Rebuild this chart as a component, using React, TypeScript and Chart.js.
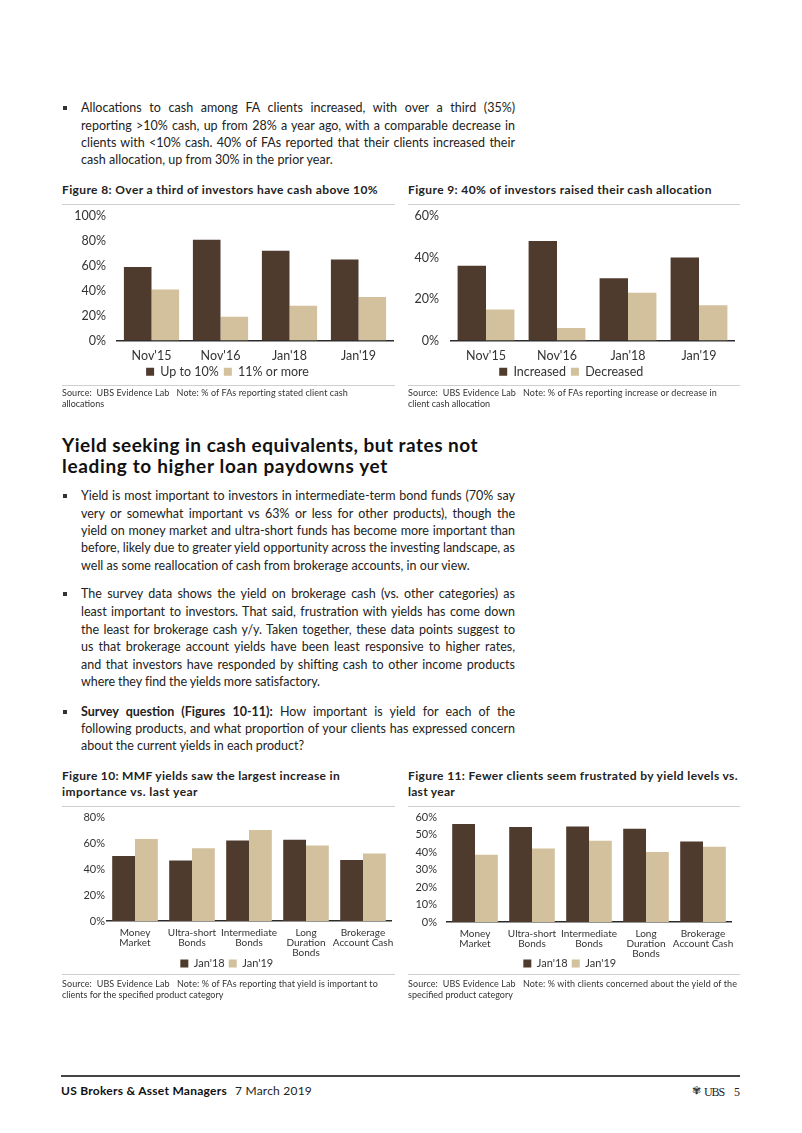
import React, { useEffect, useLayoutEffect, useRef } from "react";
import { Chart, registerables } from "chart.js";

Chart.register(...registerables);

const DARK = "#4E3B2E";
const LIGHT = "#D3C09C";
const FONT = "Lato, 'Open Sans', sans-serif";

// ---------- data ----------
const fig8Categories = ["Nov'15", "Nov'16", "Jan'18", "Jan'19"];
const fig8SeriesNames = ["Up to 10%", "11% or more"];
const fig8UpTo10 = [59, 81, 72, 65];
const fig8Over11 = [41, 19, 28, 35];
const fig8YMax = 100;
const fig8YStep = 20;

const fig9Categories = ["Nov'15", "Nov'16", "Jan'18", "Jan'19"];
const fig9SeriesNames = ["Increased", "Decreased"];
const fig9Increased = [36, 48, 30, 40];
const fig9Decreased = [15, 6, 23, 17];
const fig9YMax = 60;
const fig9YStep = 20;

const productCategories = [
  ["Money", "Market"],
  ["Ultra-short", "Bonds"],
  ["Intermediate", "Bonds"],
  ["Long", "Duration", "Bonds"],
  ["Brokerage", "Account Cash"],
];
const surveySeriesNames = ["Jan'18", "Jan'19"];
const fig10Jan18 = [50, 46.5, 62, 62.5, 47];
const fig10Jan19 = [63, 56, 70, 58, 52];
const fig10YMax = 80;
const fig10YStep = 20;

const fig11Jan18 = [56, 54.3, 54.6, 53.3, 46];
const fig11Jan19 = [38.5, 42, 46.5, 40, 43];
const fig11YMax = 60;
const fig11YStep = 10;

// ---------- text helpers ----------
type LineProps = {
  x: number;
  y: number; // visual centre
  w?: number;
  mode?: "justify" | "fit" | "none";
  size: number;
  weight?: number;
  color?: string;
  family?: string;
  lh?: number;
  children: React.ReactNode;
};

function Line({ x, y, w, mode = "none", size, weight = 400, color = "#222", family = FONT, lh = 16, children }: LineProps) {
  const ref = useRef<HTMLSpanElement>(null);
  useLayoutEffect(() => {
    const el = ref.current;
    if (!el) return;
    const apply = () => {
      el.style.wordSpacing = "0px";
      el.style.letterSpacing = "0px";
      if (!w || mode === "none") return;
      const nat = el.getBoundingClientRect().width;
      const text = el.textContent || "";
      if (mode === "justify") {
        const n = (text.match(/ /g) || []).length;
        if (n) el.style.wordSpacing = (w - nat) / n + "px";
      } else if (mode === "fit") {
        const n = text.length;
        if (n) el.style.letterSpacing = (w - nat) / n + "px";
      }
    };
    apply();
    const f: any = (document as any).fonts;
    if (f && f.ready) f.ready.then(apply);
  }, []);
  return (
    <div
      style={{
        position: "absolute",
        left: x,
        top: y - lh / 2,
        height: lh,
        lineHeight: lh + "px",
        whiteSpace: "pre",
        fontFamily: family,
        fontSize: size,
        fontWeight: weight,
        color,
      }}
    >
      <span ref={ref}>{children}</span>
    </div>
  );
}

function HRule({ x, y, w, color = "#cfcfcf", h = 1 }: { x: number; y: number; w: number; color?: string; h?: number }) {
  return <div style={{ position: "absolute", left: x, top: y - h / 2, width: w, height: h, background: color }} />;
}

function Bullet({ y }: { y: number }) {
  return <div style={{ position: "absolute", left: 63, top: y - 2, width: 4, height: 4, background: "#333" }} />;
}

// ---------- chart ----------
type BarProps = {
  left: number;
  top: number;
  width: number;
  height: number;
  labels: any[];
  names: string[];
  a: number[];
  b: number[];
  yMax: number;
  yStep: number;
  yW: number;
  tickPad: number;
  tickFont: number;
  rightPad: number;
  topPad: number;
  xH: number;
  catPad: number;
  catFont: number;
  catLH: number;
  legendFont: number;
  legendPad: number;
};

function BarChart(p: BarProps) {
  const ref = useRef<HTMLCanvasElement>(null);
  useEffect(() => {
    if (!ref.current) return;
    const chart = new Chart(ref.current, {
      type: "bar",
      data: {
        labels: p.labels,
        datasets: [
          { label: p.names[0], data: p.a, backgroundColor: DARK, borderWidth: 0 },
          { label: p.names[1], data: p.b, backgroundColor: LIGHT, borderWidth: 0 },
        ],
      },
      options: {
        animation: false,
        responsive: false,
        maintainAspectRatio: false,
        devicePixelRatio: 1,
        layout: { padding: { top: p.topPad, right: p.rightPad, left: 0, bottom: 0 } },
        datasets: { bar: { categoryPercentage: 0.8, barPercentage: 1.0 } } as any,
        scales: {
          x: {
            grid: { display: false, drawTicks: false },
            border: { display: true, color: "#2b2b2b", width: 1.5 },
            ticks: {
              font: { family: FONT, size: p.catFont, lineHeight: p.catLH },
              color: "#333",
              padding: p.catPad,
              maxRotation: 0,
              autoSkip: false,
            },
            afterFit: (s: any) => {
              s.height = p.xH;
              s.paddingLeft = 0;
              s.paddingRight = 0;
              // let multi-line category labels spill below the axis box
              s._computeLabelArea = () => undefined;
            },
          },
          y: {
            min: 0,
            max: p.yMax,
            grid: { display: false, drawTicks: false },
            border: { display: false },
            ticks: {
              stepSize: p.yStep,
              callback: (v: any) => v + "%",
              font: { family: FONT, size: p.tickFont },
              color: "#333",
              padding: p.tickPad,
            },
            afterFit: (s: any) => {
              s.width = p.yW;
              s.paddingTop = 0;
              s.paddingBottom = 0;
            },
          },
        },
        plugins: {
          legend: {
            position: "bottom",
            labels: {
              boxWidth: 8,
              boxHeight: 8,
              padding: p.legendPad,
              font: { family: FONT, size: p.legendFont },
              color: "#333",
            },
          },
          tooltip: { enabled: false },
        },
      } as any,
    });
    return () => chart.destroy();
  }, []);
  return (
    <canvas
      ref={ref}
      width={p.width}
      height={p.height}
      style={{ position: "absolute", left: p.left, top: p.top, width: p.width, height: p.height }}
    />
  );
}

const BODY = 12.5;
const BW = 434;

export default function App() {
  return (
    <div
      style={{
        position: "absolute",
        left: 0,
        top: 0,
        width: 802,
        height: 1133,
        overflow: "hidden",
        background: "#fff",
        fontFamily: FONT,
      }}
    >
      {/* Paragraph 1 */}
      <Bullet y={108} />
      <Line x={81} y={108} w={BW} mode="justify" size={BODY}>Allocations to cash among FA clients increased, with over a third (35%)</Line>
      <Line x={81} y={125.5} w={BW} mode="justify" size={BODY}>reporting &gt;10% cash, up from 28% a year ago, with a comparable decrease in</Line>
      <Line x={81} y={142.7} w={BW} mode="justify" size={BODY}>clients with &lt;10% cash. 40% of FAs reported that their clients increased their</Line>
      <Line x={81} y={160} w={252} mode="fit" size={BODY}>cash allocation, up from 30% in the prior year.</Line>

      {/* Figure 8 */}
      <Line x={62} y={190} w={316} mode="fit" size={12} weight={700}>Figure 8: Over a third of investors have cash above 10%</Line>
      <HRule x={62} y={204} w={333} />
      <BarChart
        left={62} top={206} width={333} height={182}
        labels={fig8Categories} names={fig8SeriesNames} a={fig8UpTo10} b={fig8Over11}
        yMax={fig8YMax} yStep={fig8YStep} yW={55} tickPad={11} tickFont={12.5}
        rightPad={2} topPad={10} xH={20} catPad={8} catFont={12.5} catLH={1.2}
        legendFont={12.5} legendPad={5}
      />
      <HRule x={62} y={385} w={333} />
      <Line x={62} y={393.3} w={286} mode="fit" size={9} color="#333">{"Source:  UBS Evidence Lab   Note: % of FAs reporting stated client cash"}</Line>
      <Line x={62} y={404.3} size={9} color="#333">allocations</Line>

      {/* Figure 9 */}
      <Line x={408} y={190} w={304} mode="fit" size={12} weight={700}>Figure 9: 40% of investors raised their cash allocation</Line>
      <HRule x={408} y={204} w={332} />
      <BarChart
        left={408} top={206} width={332} height={182}
        labels={fig9Categories} names={fig9SeriesNames} a={fig9Increased} b={fig9Decreased}
        yMax={fig9YMax} yStep={fig9YStep} yW={42.5} tickPad={11.5} tickFont={12.5}
        rightPad={5.5} topPad={10} xH={20} catPad={8} catFont={12.5} catLH={1.2}
        legendFont={12.5} legendPad={5}
      />
      <HRule x={408} y={385} w={332} />
      <Line x={408} y={393.3} w={309} mode="fit" size={9} color="#333">{"Source:  UBS Evidence Lab   Note: % of FAs reporting increase or decrease in"}</Line>
      <Line x={408} y={404.3} size={9} color="#333">client cash allocation</Line>

      {/* Heading */}
      <Line x={62} y={445} w={416} mode="fit" size={19} weight={700} color="#111" lh={24}>Yield seeking in cash equivalents, but rates not</Line>
      <Line x={62} y={466} w={326} mode="fit" size={19} weight={700} color="#111" lh={24}>leading to higher loan paydowns yet</Line>

      {/* Paragraph 2 */}
      <Bullet y={496.3} />
      <Line x={81} y={496.3} w={BW} mode="justify" size={BODY}>Yield is most important to investors in intermediate-term bond funds (70% say</Line>
      <Line x={81} y={513.5} w={BW} mode="justify" size={BODY}>very or somewhat important vs 63% or less for other products), though the</Line>
      <Line x={81} y={530.8} w={BW} mode="justify" size={BODY}>yield on money market and ultra-short funds has become more important than</Line>
      <Line x={81} y={548.1} w={BW} mode="justify" size={BODY}>before, likely due to greater yield opportunity across the investing landscape, as</Line>
      <Line x={81} y={565.6} w={389} mode="fit" size={BODY}>well as some reallocation of cash from brokerage accounts, in our view.</Line>

      {/* Paragraph 3 */}
      <Bullet y={594.3} />
      <Line x={81} y={594.3} w={BW} mode="justify" size={BODY}>The survey data shows the yield on brokerage cash (vs. other categories) as</Line>
      <Line x={81} y={612} w={BW} mode="justify" size={BODY}>least important to investors. That said, frustration with yields has come down</Line>
      <Line x={81} y={629.6} w={BW} mode="justify" size={BODY}>the least for brokerage cash y/y. Taken together, these data points suggest to</Line>
      <Line x={81} y={647.2} w={BW} mode="justify" size={BODY}>us that brokerage account yields have been least responsive to higher rates,</Line>
      <Line x={81} y={664.8} w={BW} mode="justify" size={BODY}>and that investors have responded by shifting cash to other income products</Line>
      <Line x={81} y={682.3} w={239} mode="fit" size={BODY}>where they find the yields more satisfactory.</Line>

      {/* Paragraph 4 */}
      <Bullet y={711.7} />
      <Line x={81} y={711.7} w={BW} mode="justify" size={BODY}>
        <b>Survey question (Figures 10-11):</b> How important is yield for each of the
      </Line>
      <Line x={81} y={729} w={BW} mode="justify" size={BODY}>following products, and what proportion of your clients has expressed concern</Line>
      <Line x={81} y={746.3} w={223} mode="fit" size={BODY}>about the current yields in each product?</Line>

      {/* Figure 10 */}
      <Line x={62} y={776} w={278} mode="fit" size={12} weight={700}>Figure 10: MMF yields saw the largest increase in</Line>
      <Line x={62} y={792} w={136} mode="fit" size={12} weight={700}>importance vs. last year</Line>
      <HRule x={62} y={806.7} w={333} />
      <BarChart
        left={62} top={809} width={333} height={170}
        labels={productCategories} names={surveySeriesNames} a={fig10Jan18} b={fig10Jan19}
        yMax={fig10YMax} yStep={fig10YStep} yW={44.5} tickPad={1.5} tickFont={11}
        rightPad={3.5} topPad={8} xH={33} catPad={7} catFont={10} catLH={1.0}
        legendFont={11} legendPad={4}
      />
      <HRule x={62} y={974.3} w={333} />
      <Line x={62} y={984} w={316} mode="fit" size={9} color="#333">{"Source:  UBS Evidence Lab   Note: % of FAs reporting that yield is important to"}</Line>
      <Line x={62} y={995.3} size={9} color="#333">clients for the specified product category</Line>

      {/* Figure 11 */}
      <Line x={408} y={776} w={330} mode="fit" size={12} weight={700}>Figure 11: Fewer clients seem frustrated by yield levels vs.</Line>
      <Line x={408} y={792} w={47} mode="fit" size={12} weight={700}>last year</Line>
      <HRule x={408} y={806.7} w={332} />
      <BarChart
        left={408} top={809} width={332} height={170}
        labels={productCategories} names={surveySeriesNames} a={fig11Jan18} b={fig11Jan19}
        yMax={fig11YMax} yStep={fig11YStep} yW={38.5} tickPad={9.5} tickFont={11}
        rightPad={8.5} topPad={8} xH={32} catPad={7} catFont={10} catLH={1.0}
        legendFont={11} legendPad={4}
      />
      <HRule x={408} y={974.3} w={332} />
      <Line x={408} y={984} w={329} mode="fit" size={9} color="#333">{"Source:  UBS Evidence Lab   Note: % with clients concerned about the yield of the"}</Line>
      <Line x={408} y={995.3} size={9} color="#333">specified product category</Line>

      {/* Footer */}
      <HRule x={61} y={1076} w={679} color="#444" h={1.3} />
      <Line x={61} y={1091} w={166} mode="fit" size={12} weight={700} color="#111">US Brokers &amp; Asset Managers</Line>
      <Line x={235} y={1091} w={77} mode="fit" size={12} color="#222">7 March 2019</Line>
      <Line x={692} y={1091} size={11} color="#333" family="'DejaVu Sans', sans-serif">✾</Line>
      <Line x={704} y={1091.5} w={20} mode="fit" size={12} color="#222" family="'Liberation Serif', serif">UBS</Line>
      <Line x={734} y={1091.5} size={12} color="#222" family="'Liberation Serif', serif">5</Line>
    </div>
  );
}
